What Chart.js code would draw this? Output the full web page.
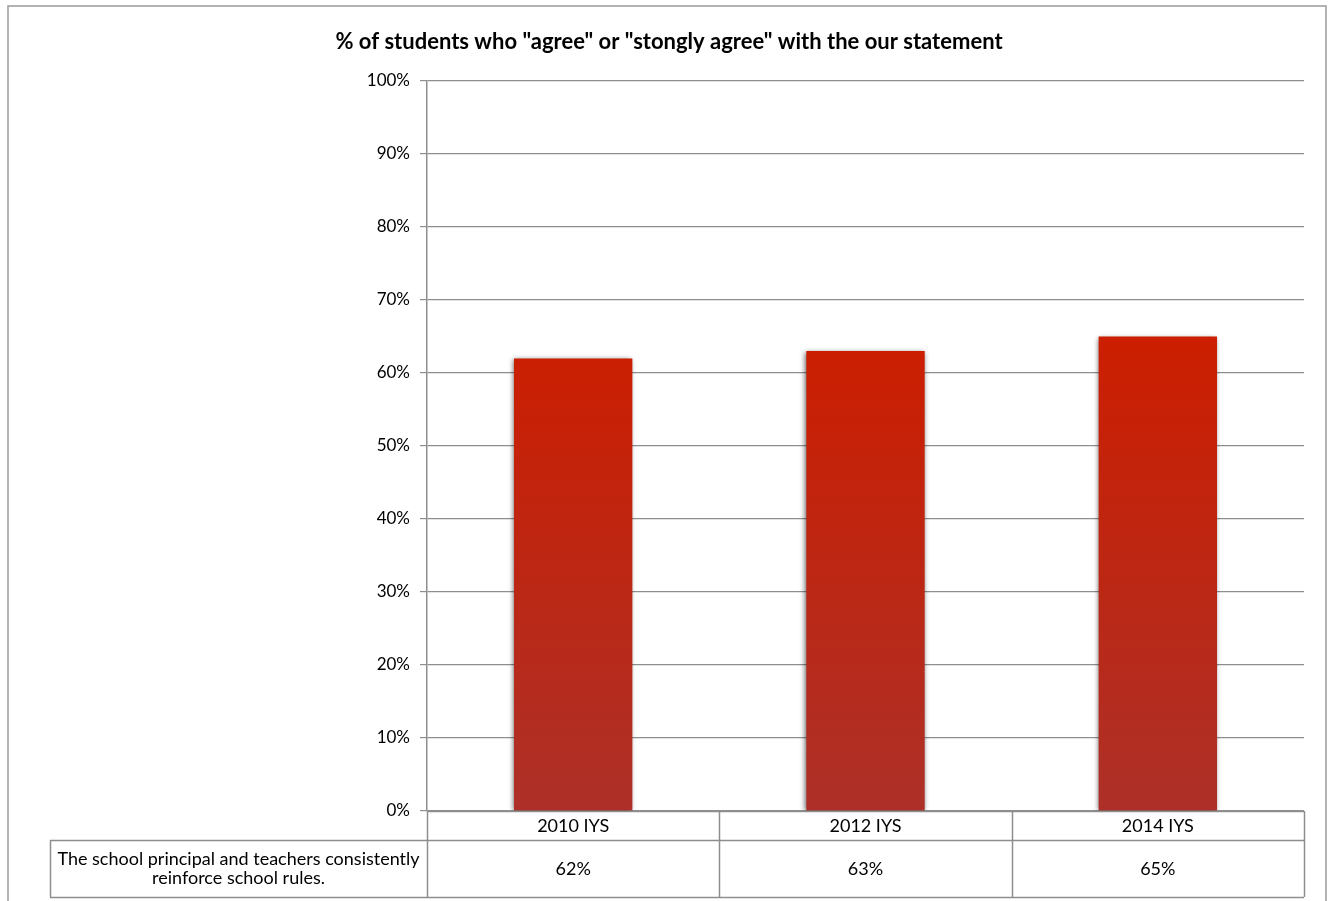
<!DOCTYPE html>
<html>
<head>
<meta charset="utf-8">
<script src="https://cdn.jsdelivr.net/npm/chart.js@4.4.1/dist/chart.umd.min.js"></script>
<style>
  html, body { margin: 0; padding: 0; background: #fff; }
  #wrap { width: 1330px; height: 901px; position: relative; }
</style>
</head>
<body>
<div id="wrap"><canvas id="c" width="1330" height="901"></canvas></div>
<script>
const titleText = '% of students who "agree" or "stongly agree" with the our statement';
const categories = ['2010 IYS', '2012 IYS', '2014 IYS'];
const seriesLabel = ['The school principal and teachers consistently', 'reinforce school rules.'];
const seriesValues = [62, 63, 65];
const yMin = 0, yMax = 100, yStep = 10;

const FONT = 'Lato, "Liberation Sans", Arial, sans-serif';
const GRID = '#8e8e8e';

const frameAndTable = {
  id: 'frameAndTable',
  afterLayout(chart) {
    if (chart.titleBlock) {
      chart.titleBlock.left = 34;
      chart.titleBlock.right = chart.chartArea.right;
    }
  },
  beforeDraw(chart) {
    const ctx = chart.ctx;
    ctx.save();
    ctx.fillStyle = '#fff';
    ctx.fillRect(0, 0, chart.width, chart.height);
    ctx.strokeStyle = '#9a9a9a';
    ctx.lineWidth = 1.5;
    ctx.strokeRect(8, 6, 1318, 910);
    ctx.restore();
  },
  afterDraw(chart) {
    const ctx = chart.ctx;
    const ca = chart.chartArea;
    const xs = chart.scales.x;
    const n = categories.length;
    const colW = (ca.right - ca.left) / n;
    const row1Top = ca.bottom, row1Bot = ca.bottom + 29, row2Bot = ca.bottom + 86;
    const labelLeft = 50;
    ctx.save();
    ctx.strokeStyle = GRID;
    ctx.lineWidth = 1.5;
    ctx.beginPath();
    ctx.moveTo(ca.left, row1Top + 0.5); ctx.lineTo(ca.right, row1Top + 0.5);
    ctx.moveTo(labelLeft, row1Bot + 0.5); ctx.lineTo(ca.right, row1Bot + 0.5);
    ctx.moveTo(labelLeft, row2Bot + 0.5); ctx.lineTo(ca.right, row2Bot + 0.5);
    ctx.moveTo(labelLeft + 0.5, row1Bot); ctx.lineTo(labelLeft + 0.5, row2Bot);
    for (let i = 0; i <= n; i++) {
      const x = Math.round(ca.left + i * colW) + 0.5;
      ctx.moveTo(x, row1Top); ctx.lineTo(x, row2Bot);
    }
    ctx.stroke();

    ctx.fillStyle = '#000';
    ctx.font = '18px ' + FONT;
    ctx.textAlign = 'center';
    ctx.textBaseline = 'middle';
    categories.forEach((c, i) => {
      const x = xs.getPixelForValue(i);
      ctx.fillText(c, x, (row1Top + row1Bot) / 2 + 1);
      ctx.fillText(seriesValues[i] + '%', x, (row1Bot + row2Bot) / 2 + 1);
    });
    const lx = (labelLeft + ca.left) / 2;
    const my = (row1Bot + row2Bot) / 2;
    ctx.fillText(seriesLabel[0], lx, my - 9);
    ctx.fillText(seriesLabel[1], lx, my + 10);
    ctx.restore();
  }
};

const barShadow = {
  id: 'barShadow',
  beforeDatasetDraw(chart) {
    const ctx = chart.ctx;
    ctx.save();
    ctx.shadowColor = 'rgba(0,0,0,0.6)';
    ctx.shadowBlur = 5;
    ctx.shadowOffsetX = -1;
    ctx.shadowOffsetY = 1;
  },
  afterDatasetDraw(chart) {
    chart.ctx.restore();
  }
};

new Chart(document.getElementById('c'), {
  type: 'bar',
  data: {
    labels: categories,
    datasets: [{
      label: seriesLabel.join(' '),
      data: seriesValues,
      backgroundColor(ctx) {
        const ca = ctx.chart.chartArea;
        if (!ca) return '#c0201a';
        const g = ctx.chart.ctx.createLinearGradient(0, ca.top + ca.height * 0.35, 0, ca.bottom);
        g.addColorStop(0, '#cc1e00');
        g.addColorStop(1, '#ad3028');
        return g;
      },
      borderWidth: 0,
      categoryPercentage: 1,
      barPercentage: 0.405
    }]
  },
  options: {
    responsive: false,
    animation: false,
    devicePixelRatio: 1,
    layout: { padding: { left: 0, right: 26, top: 0, bottom: 0 } },
    plugins: {
      legend: { display: false },
      tooltip: { enabled: false },
      title: {
        display: true,
        text: titleText,
        color: '#000',
        font: { family: FONT, size: 22, weight: 'bold', lineHeight: 1.2 },
        padding: { top: 29, bottom: 25.6 }
      }
    },
    scales: {
      x: {
        display: true,
        grid: { display: false },
        border: { display: false },
        ticks: { display: false },
        afterFit(s) { s.height = 90; }
      },
      y: {
        min: yMin, max: yMax,
        ticks: {
          stepSize: yStep,
          color: '#000',
          padding: 10,
          font: { family: FONT, size: 17 },
          callback: v => v + '%'
        },
        grid: { color: GRID, lineWidth: 1.2, tickLength: 7, drawTicks: true },
        border: { display: true, color: GRID, width: 1.5 },
        afterFit(s) { s.width = 427; }
      }
    }
  },
  plugins: [frameAndTable, barShadow]
});
</script>
</body>
</html>
